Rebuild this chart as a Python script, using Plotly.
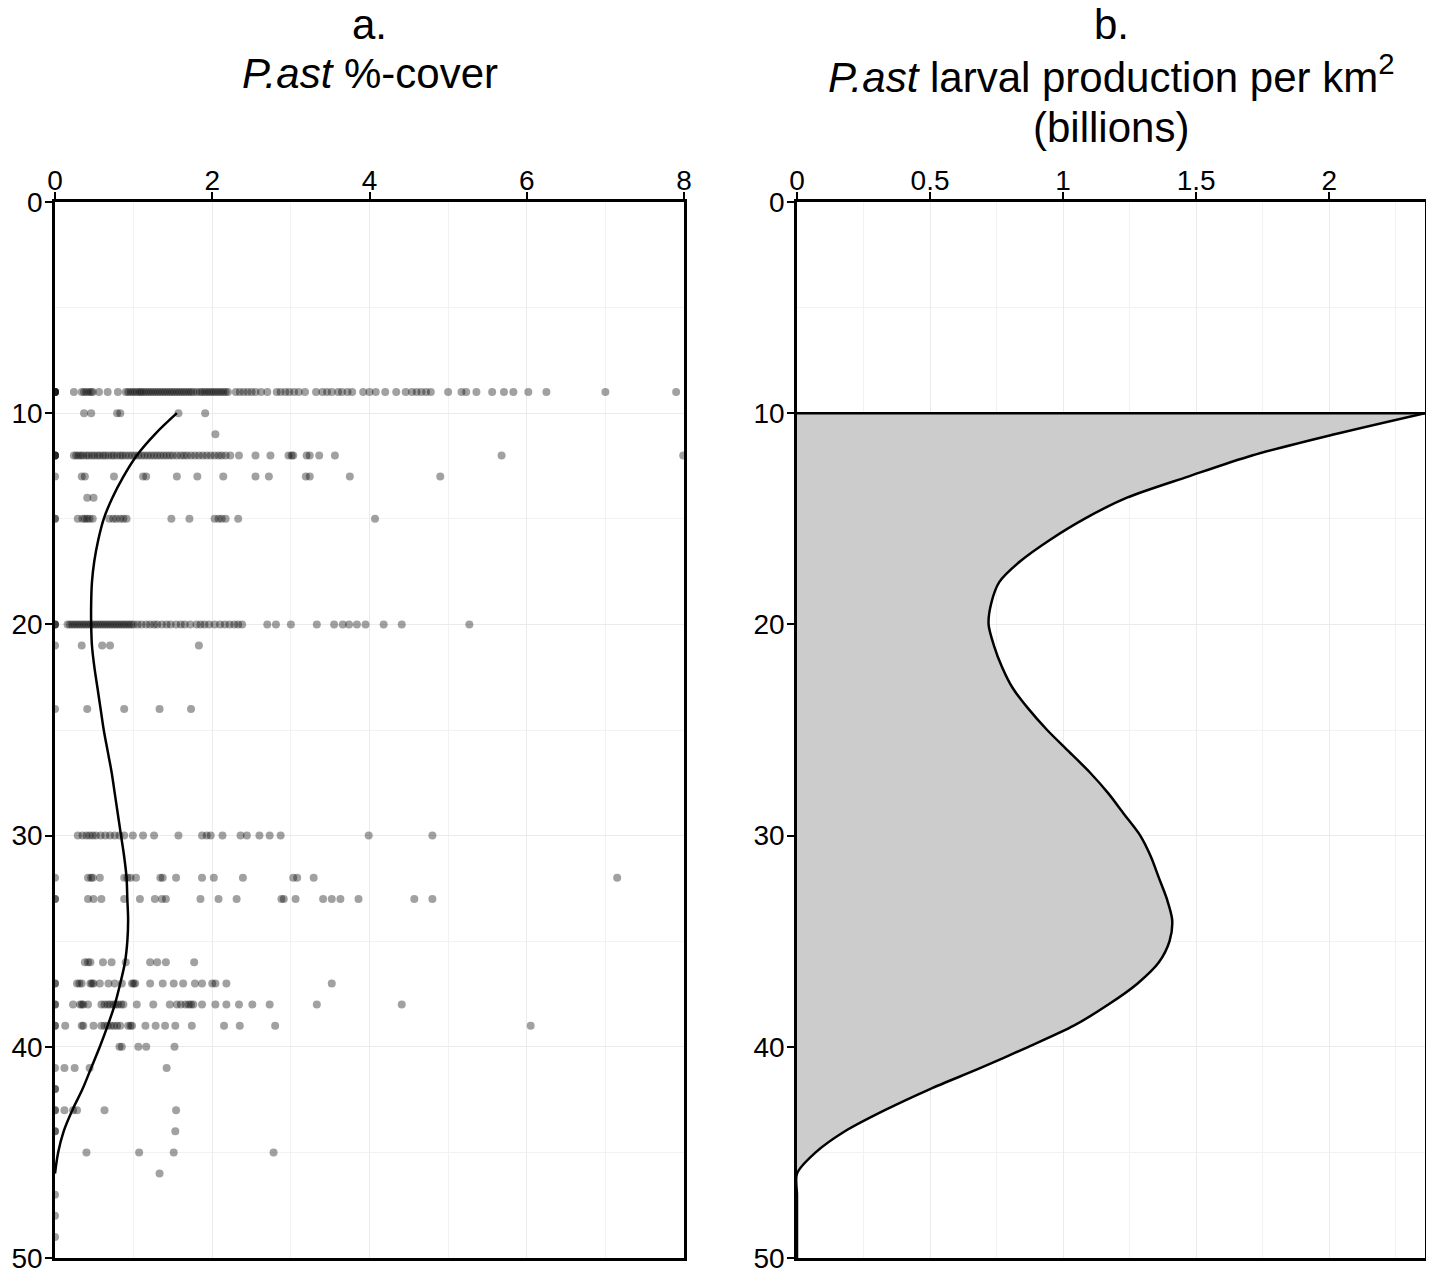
import plotly.graph_objects as go

# ---------------- Panel a: P.ast %-cover observations by depth ----------------
cover_09 = [0, 0, 0, 0, 0, 0.24, 0.34, 0.37, 0.40, 0.43, 0.46, 0.48, 0.56, 0.67, 0.80,
            0.90, 0.93, 0.96, 0.99, 1.02, 1.05, 1.08, 1.10, 1.13, 1.16, 1.19, 1.22, 1.25,
            1.28, 1.31, 1.34, 1.37, 1.40, 1.43, 1.46, 1.49, 1.52, 1.55, 1.58, 1.61, 1.64,
            1.67, 1.70, 1.73, 1.76, 1.80, 1.84, 1.87, 1.90, 1.93, 1.96, 1.99, 2.02, 2.05,
            2.08, 2.11, 2.14, 2.17, 2.20, 2.30, 2.35, 2.40, 2.45, 2.50, 2.55, 2.62, 2.70,
            2.82, 2.87, 2.93, 2.98, 3.04, 3.10, 3.18, 3.32, 3.40, 3.46, 3.52, 3.60, 3.65,
            3.72, 3.78, 3.92, 4.00, 4.08, 4.20, 4.34, 4.46, 4.54, 4.60, 4.66, 4.72, 4.78,
            5.00, 5.17, 5.23, 5.36, 5.56, 5.71, 5.83, 6.02, 6.25, 7.00, 7.90]
cover_10 = [0.37, 0.46, 0.79, 0.83, 1.57, 1.91]
cover_11 = [2.04]
cover_12 = [0, 0, 0, 0, 0.24, 0.27, 0.30, 0.33, 0.36, 0.40, 0.43, 0.47, 0.50, 0.54, 0.57,
            0.61, 0.64, 0.68, 0.72, 0.75, 0.79, 0.83, 0.86, 0.90, 0.94, 0.98, 1.02, 1.06,
            1.10, 1.14, 1.18, 1.22, 1.26, 1.30, 1.34, 1.38, 1.42, 1.46, 1.50, 1.55, 1.60,
            1.64, 1.68, 1.73, 1.78, 1.83, 1.88, 1.93, 1.98, 2.03, 2.08, 2.12, 2.17, 2.23,
            2.34, 2.55, 2.74, 2.97, 3.01, 3.03, 3.20, 3.24, 3.36, 3.56, 5.68, 7.99]
cover_13 = [0, 0.34, 0.38, 0.75, 1.12, 1.16, 1.55, 1.81, 2.14, 2.55, 2.72, 3.19, 3.24, 3.75, 4.90]
cover_14 = [0.41, 0.49]
cover_15 = [0, 0, 0.29, 0.35, 0.38, 0.41, 0.44, 0.48, 0.69, 0.74, 0.78, 0.83, 0.87, 0.91,
            1.48, 1.71, 2.03, 2.08, 2.12, 2.17, 2.33, 4.07]
cover_20 = [0, 0, 0, 0.16, 0.19, 0.22, 0.25, 0.28, 0.31, 0.34, 0.37, 0.40, 0.43, 0.46, 0.49,
            0.52, 0.55, 0.58, 0.61, 0.64, 0.67, 0.70, 0.73, 0.76, 0.79, 0.82, 0.85, 0.88,
            0.91, 0.94, 0.97, 1.00, 1.05, 1.10, 1.16, 1.21, 1.26, 1.30, 1.36, 1.42, 1.47,
            1.54, 1.60, 1.65, 1.72, 1.80, 1.85, 1.90, 1.96, 2.03, 2.10, 2.16, 2.22, 2.28,
            2.33, 2.38, 2.70, 2.81, 3.00, 3.33, 3.55, 3.66, 3.74, 3.84, 3.95, 4.18, 4.41, 5.27]
cover_21 = [0, 0.34, 0.60, 0.70, 1.83]
cover_24 = [0, 0.41, 0.88, 1.33, 1.73]
cover_30 = [0.29, 0.35, 0.40, 0.44, 0.48, 0.52, 0.58, 0.64, 0.70, 0.76, 0.82, 0.88, 0.99,
            1.12, 1.26, 1.57, 1.87, 1.93, 1.98, 2.13, 2.36, 2.44, 2.60, 2.73, 2.87, 3.99, 4.80]
cover_32 = [0, 0.42, 0.46, 0.48, 0.57, 0.88, 0.92, 0.96, 1.03, 1.34, 1.37, 1.54, 1.87, 2.02,
            2.39, 3.03, 3.08, 3.29, 7.15]
cover_33 = [0, 0, 0.42, 0.49, 0.59, 0.88, 1.08, 1.27, 1.36, 1.41, 1.85, 2.08, 2.31, 2.88,
            2.91, 3.06, 3.41, 3.52, 3.63, 3.86, 4.57, 4.80]
cover_36 = [0.38, 0.42, 0.45, 0.61, 0.72, 0.90, 1.21, 1.30, 1.41, 1.77]
cover_37 = [0, 0, 0.28, 0.31, 0.34, 0.45, 0.47, 0.49, 0.57, 0.68, 0.76, 0.85, 0.98, 1.00,
            1.02, 1.21, 1.37, 1.51, 1.63, 1.78, 1.87, 2.00, 2.04, 2.18, 3.52]
cover_38 = [0, 0, 0.23, 0.32, 0.34, 0.36, 0.42, 0.59, 0.63, 0.67, 0.70, 0.74, 0.77, 0.80,
            0.84, 0.87, 1.04, 1.25, 1.46, 1.55, 1.60, 1.66, 1.70, 1.73, 1.76, 1.87, 2.04,
            2.18, 2.34, 2.51, 2.73, 3.33, 4.41]
cover_39 = [0, 0, 0.13, 0.34, 0.36, 0.49, 0.59, 0.63, 0.67, 0.71, 0.75, 0.79, 0.83, 0.93,
            0.96, 0.98, 1.15, 1.28, 1.40, 1.53, 1.74, 2.15, 2.35, 2.80, 6.05]
cover_40 = [0.82, 0.85, 1.06, 1.16, 1.52]
cover_41 = [0, 0.12, 0.25, 0.44, 1.42]
cover_42 = [0, 0]
cover_43 = [0, 0, 0.12, 0.23, 0.28, 0.63, 1.54]
cover_44 = [0, 0, 1.53]
cover_45 = [0.40, 1.07, 1.51, 2.78]
cover_46 = [1.33]
cover_47 = [0]
cover_48 = [0]
cover_49 = [0]

obs_groups = [
    (9, cover_09), (10, cover_10), (11, cover_11), (12, cover_12), (13, cover_13),
    (14, cover_14), (15, cover_15), (20, cover_20), (21, cover_21), (24, cover_24),
    (30, cover_30), (32, cover_32), (33, cover_33), (36, cover_36), (37, cover_37),
    (38, cover_38), (39, cover_39), (40, cover_40), (41, cover_41), (42, cover_42),
    (43, cover_43), (44, cover_44), (45, cover_45), (46, cover_46), (47, cover_47),
    (48, cover_48), (49, cover_49),
]

# fitted %-cover curve
fit_depth = [10, 11, 12, 13, 14, 15, 16, 17, 18, 19, 20, 21, 22, 23, 24, 25, 26, 27, 28,
             29, 30, 31, 32, 33, 34, 35, 36, 37, 38, 39, 40, 41, 42, 43, 44, 45, 46]
fit_cover = [1.55, 1.27, 1.04, 0.87, 0.73, 0.62, 0.55, 0.50, 0.47, 0.46, 0.46, 0.47, 0.50,
             0.54, 0.58, 0.62, 0.67, 0.72, 0.76, 0.80, 0.84, 0.88, 0.91, 0.92, 0.93, 0.92,
             0.89, 0.83, 0.76, 0.67, 0.57, 0.46, 0.35, 0.22, 0.11, 0.04, 0.0]

# ---------------- Panel b: larval production (billions per km2) ----------------
larval_depth = [10, 11, 12, 13, 14, 15, 16, 17, 18, 19, 20, 21, 22, 23, 24, 25, 26, 27, 28,
                29, 30, 31, 32, 33, 34, 35, 36, 37, 38, 39, 40, 41, 42, 43, 44, 45, 46, 47,
                48, 49, 50]
larval_prod = [2.36, 2.02, 1.71, 1.47, 1.24, 1.08, 0.95, 0.84, 0.76, 0.73, 0.72, 0.74, 0.77,
               0.81, 0.87, 0.94, 1.02, 1.10, 1.17, 1.23, 1.29, 1.33, 1.36, 1.39, 1.41, 1.40,
               1.36, 1.28, 1.17, 1.04, 0.87, 0.69, 0.50, 0.33, 0.18, 0.07, 0.0, 0.0, 0.0,
               0.0, 0.0]

depth_ticks = [0, 10, 20, 30, 40, 50]
cover_ticks = [0, 2, 4, 6, 8]
larval_ticks = [0, 0.5, 1, 1.5, 2]
larval_tick_text = ["0", "0.5", "1", "1.5", "2"]

FONT = "Liberation Sans, Arial, sans-serif"

# page offset of the figure (browser body margin) and figure size
OFF = 8
W, H = 1434 - OFF, 1270 - OFF


def px_x(p):
    return (p - OFF) / W


def px_y(p):
    return 1 - (p - OFF) / H


fig = go.Figure()

obs_x, obs_y = [], []
for d, vals in obs_groups:
    obs_x.extend(vals)
    obs_y.extend([d] * len(vals))

fig.add_trace(go.Scatter(
    x=obs_x, y=obs_y, mode="markers",
    marker=dict(size=8, color="rgba(0,0,0,0.37)", line=dict(width=0)),
    xaxis="x", yaxis="y", showlegend=False, hoverinfo="x+y",
))
fig.add_trace(go.Scatter(
    x=fit_cover, y=fit_depth, mode="lines",
    line=dict(color="black", width=2.5, shape="spline"),
    xaxis="x", yaxis="y", showlegend=False,
))

# shaded area, curve and top edge for panel b
fig.add_trace(go.Scatter(
    x=larval_prod, y=larval_depth, mode="lines",
    line=dict(color="rgba(0,0,0,0)", width=0, shape="spline", smoothing=0.8),
    fill="tozerox", fillcolor="#cccccc",
    xaxis="x2", yaxis="y2", showlegend=False, hoverinfo="skip",
))
fig.add_trace(go.Scatter(
    x=larval_prod, y=larval_depth, mode="lines",
    line=dict(color="black", width=2.5, shape="spline", smoothing=0.8),
    xaxis="x2", yaxis="y2", showlegend=False,
))
fig.add_trace(go.Scatter(
    x=[0, max(larval_prod)], y=[larval_depth[0], larval_depth[0]], mode="lines",
    line=dict(color="black", width=2.5),
    xaxis="x2", yaxis="y2", showlegend=False, hoverinfo="skip",
))

ydom = [px_y(1258), px_y(202)]
grid_major = "#ebebeb"
grid_minor = "#f2f2f2"

common_axis = dict(
    showline=True, linecolor="black", linewidth=2.5, mirror=True,
    ticks="outside", ticklen=7, tickwidth=2, tickcolor="black",
    showgrid=True, gridcolor=grid_major, gridwidth=1, zeroline=False,
    automargin=False, ticklabeloverflow="allow",
    tickfont=dict(family=FONT, size=28, color="black"),
)

yaxis_common = dict(common_axis, range=[50, 0], tickvals=depth_ticks, ticklabelstandoff=-3,
                    minor=dict(dtick=5, showgrid=True, gridcolor=grid_minor, ticks=""))

fig.update_layout(
    width=W, height=H,
    margin=dict(l=0, r=0, t=0, b=0),
    paper_bgcolor="white", plot_bgcolor="white",
    font=dict(family=FONT, color="black"),
    xaxis=dict(common_axis, domain=[px_x(55), px_x(684)], range=[0, 8], side="top",
               anchor="y", tickvals=cover_ticks, ticklabelstandoff=-9,
               minor=dict(dtick=1, showgrid=True, gridcolor=grid_minor, ticks="")),
    yaxis=dict(yaxis_common, domain=ydom, anchor="x"),
    xaxis2=dict(common_axis, domain=[px_x(797), px_x(1425)], range=[0, max(larval_prod)],
                side="top", anchor="y2", tickvals=larval_ticks, ticktext=larval_tick_text,
                ticklabelstandoff=-9,
                minor=dict(dtick=0.25, tick0=0, showgrid=True, gridcolor=grid_minor, ticks="")),
    yaxis2=dict(yaxis_common, domain=ydom, anchor="x2"),
)

title_font = dict(family=FONT, size=42, color="black")
ax_a = px_x((55 + 684) / 2)
ax_b = px_x((797 + 1425) / 2)
titles = [
    (ax_a, 25, "a."),
    (ax_a, 74, "<i>P.ast</i> %-cover"),
    (ax_b, 25, "b."),
    (ax_b, 74, "<i>P.ast</i> larval production per km<sup>2</sup>"),
    (ax_b, 128, "(billions)"),
]
for xp, ypx, txt in titles:
    fig.add_annotation(x=xp, y=px_y(ypx), xref="paper", yref="paper", text=txt,
                       showarrow=False, xanchor="center", yanchor="middle", font=title_font)

fig.write_html("out.html")
